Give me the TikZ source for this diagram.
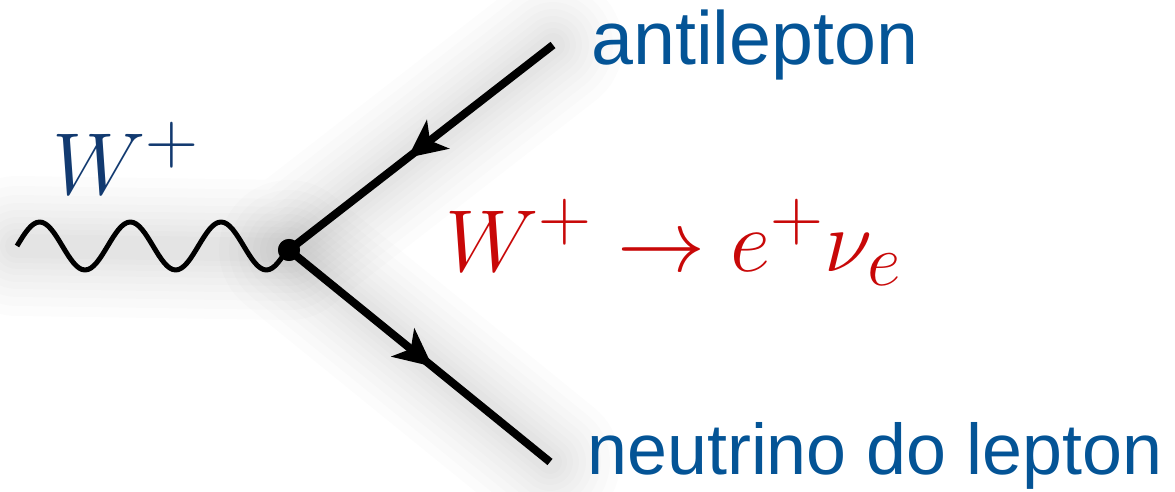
\documentclass[tikz,border=0pt]{standalone}
\usepackage{fontspec}
\newfontfamily\labelfont{Liberation Sans}
\usetikzlibrary{arrows.meta,decorations.markings}
\definecolor{wblue}{RGB}{18,58,112}
\definecolor{lblue}{RGB}{4,84,150}
\definecolor{wred}{RGB}{200,8,8}
\begin{document}
\begin{tikzpicture}[x=0.5pt,y=-0.5pt,
  fermion/.style={line width=4pt,
    decoration={markings, mark=at position 0.55 with {\arrow{Stealth[length=19pt,width=18pt,inset=5pt]}}},
    postaction={decorate}},
  wave/.style={line width=2.5pt, line join=round},
  shadowline/.style={draw=black, line cap=round, line join=round, opacity=0.013},
  plabel/.style={inner sep=0pt, anchor=base west, text=lblue},
  mlabel/.style={inner sep=0pt, anchor=base west, font=\Huge, scale=1.768}
]
\useasboundingbox (0,0) rectangle (1175,492);
\coordinate (w0) at (17,246);
\coordinate (a1) at (553,45);
\coordinate (a2) at (550,462);
\coordinate (vv) at (289,250);
% soft shadow
\begin{scope}[yshift=-16pt]
  \foreach \w in {70,60,51,43,36,29,23,17,12}{
    \draw[shadowline, line width=\w pt] (w0) -- (vv) -- (a1);
    \draw[shadowline, line width=\w pt] (vv) -- (a2);
  }
\end{scope}
\node[circle, fill=black, inner sep=0pt, minimum size=11pt] (v) at (vv) {};
\draw[wave] (w0)
  \foreach \i in {1,2,3}{
    sin ++(22.67,-24) cos ++(22.67,24) sin ++(22.67,24) cos ++(22.67,-24)
  } -- (v.center);
\draw[fermion] (a1) -- (v.center);
\draw[fermion] (v.center) -- (a2);
\node[circle, fill=black, inner sep=0pt, minimum size=11pt] at (v) {};
\node[mlabel, text=wblue] (wl) at (52,195) {$W^+$};
\node[mlabel, text=wred] (proc) at (445,272) {$W^+\to e^+\nu_e$};
\node[plabel, font=\labelfont\fontsize{37.7}{42}\selectfont] (anti) at (591,65) {antilepton};
\node[plabel, font=\labelfont\fontsize{35.9}{42}\selectfont] (neu) at (587,474) {neutrino do lepton};
\end{tikzpicture}
\end{document}
